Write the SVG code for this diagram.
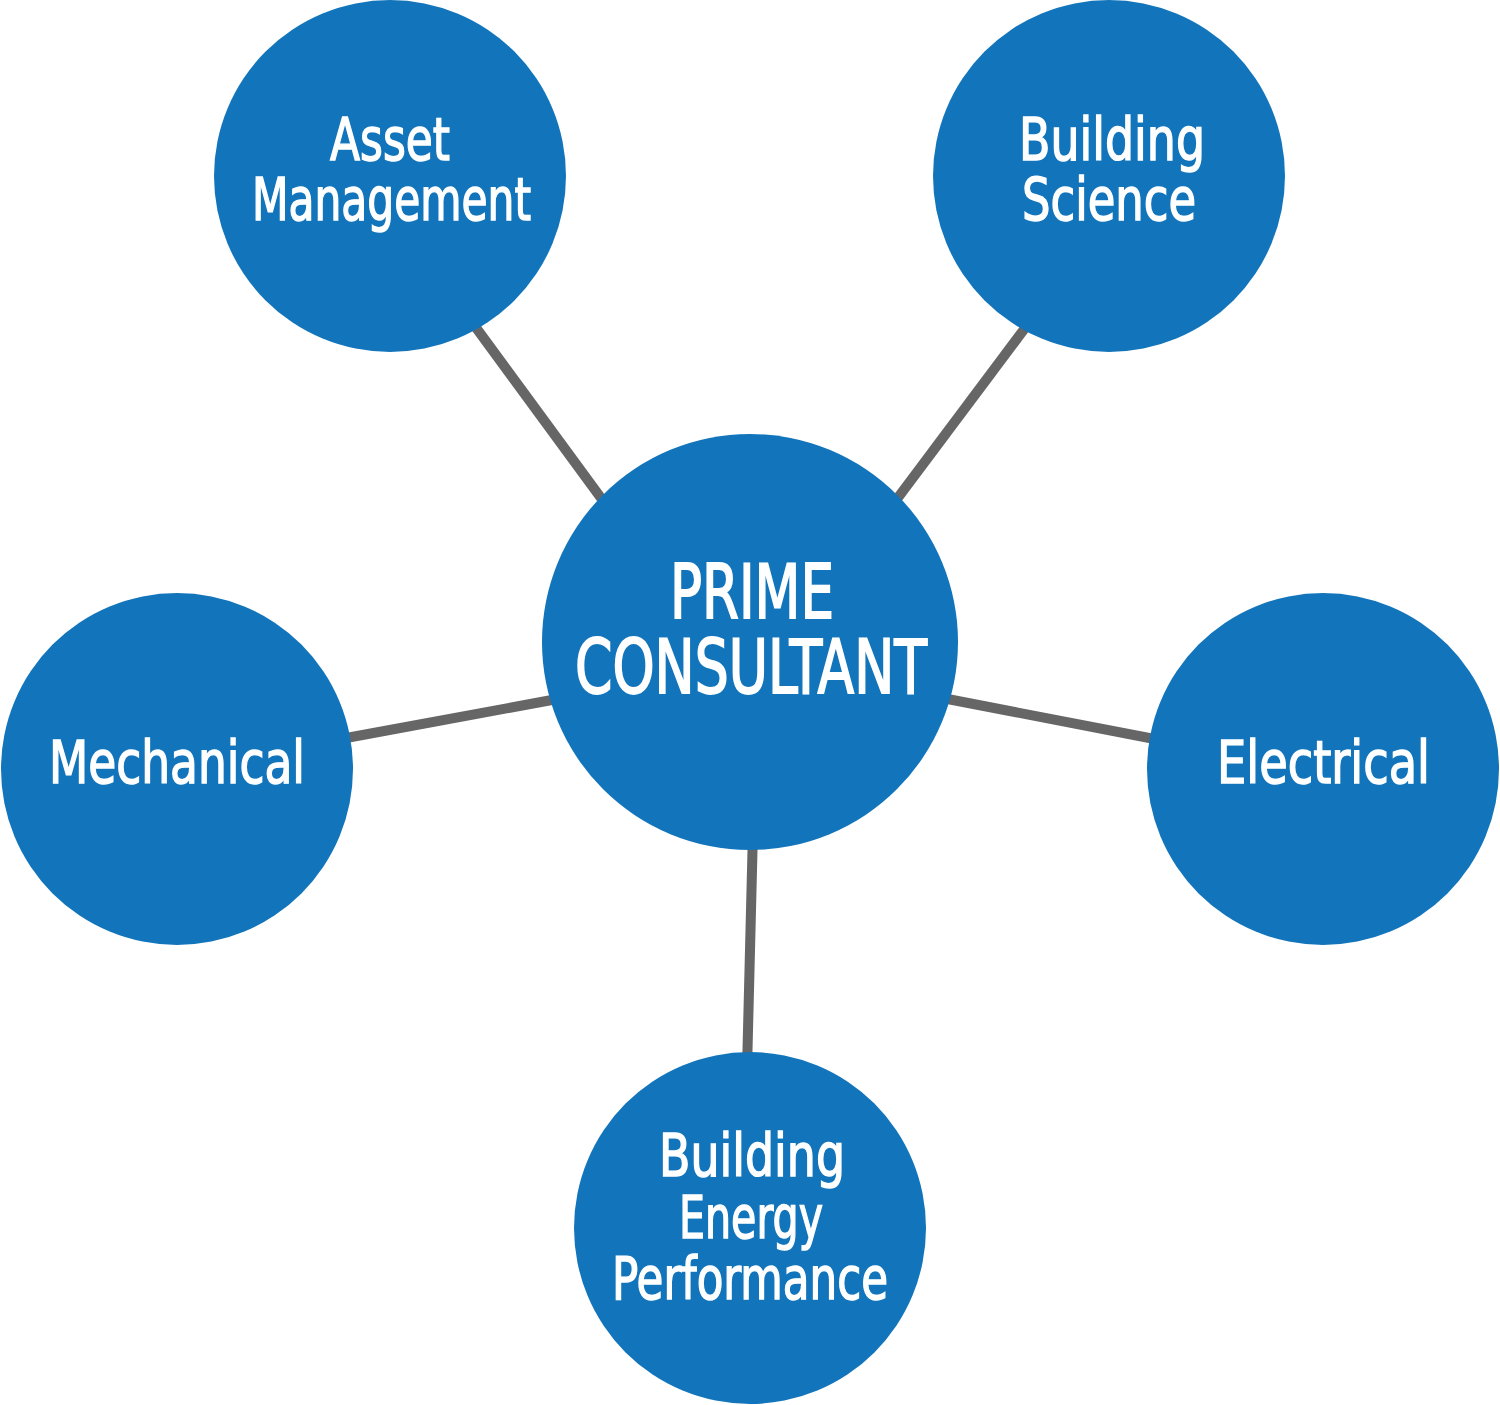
<svg xmlns="http://www.w3.org/2000/svg" width="1500" height="1405" viewBox="0 0 1500 1405">
<style>
.node{fill:#1275bb}
.conn{stroke:#666666;stroke-width:10;fill:none}
text{fill:#ffffff;stroke:#ffffff;stroke-width:1.4;font-family:"Liberation Sans Narrow","DejaVu Sans Condensed","Liberation Sans",sans-serif;font-size:59px;text-anchor:start}
.big{font-size:75px;stroke-width:1.8}
</style>
<rect width="1500" height="1405" fill="#ffffff"/>
<g id="connectors">
<line class="conn" x1="466" y1="314" x2="612" y2="513"/>
<line class="conn" x1="1034" y1="316" x2="888" y2="511"/>
<line class="conn" x1="330" y1="741" x2="568" y2="697"/>
<line class="conn" x1="932" y1="696" x2="1170" y2="742"/>
<line class="conn" x1="753" y1="830" x2="747" y2="1070"/>
</g>
<g id="node-prime">
<circle class="node" cx="750" cy="642" r="208"/>
<text class="big" x="670" y="618" textLength="164" lengthAdjust="spacingAndGlyphs">PRIME</text>
<text class="big" x="575" y="693" textLength="352" lengthAdjust="spacingAndGlyphs">CONSULTANT</text>
</g>
<g id="node-asset">
<circle class="node" cx="390" cy="176" r="176"/>
<text x="330" y="160" textLength="120" lengthAdjust="spacingAndGlyphs">Asset</text>
<text x="252" y="220" textLength="279" lengthAdjust="spacingAndGlyphs">Management</text>
</g>
<g id="node-science">
<circle class="node" cx="1109" cy="176" r="176"/>
<text x="1019" y="160" textLength="186" lengthAdjust="spacingAndGlyphs">Building</text>
<text x="1022" y="220" textLength="174" lengthAdjust="spacingAndGlyphs">Science</text>
</g>
<g id="node-mechanical">
<circle class="node" cx="177" cy="769" r="176"/>
<text x="49" y="783" textLength="256" lengthAdjust="spacingAndGlyphs">Mechanical</text>
</g>
<g id="node-electrical">
<circle class="node" cx="1323" cy="769" r="176"/>
<text x="1217" y="783" textLength="213" lengthAdjust="spacingAndGlyphs">Electrical</text>
</g>
<g id="node-energy">
<circle class="node" cx="750" cy="1228" r="176"/>
<text x="659" y="1176" textLength="186" lengthAdjust="spacingAndGlyphs">Building</text>
<text x="679" y="1238" textLength="144" lengthAdjust="spacingAndGlyphs">Energy</text>
<text x="612" y="1299" textLength="276" lengthAdjust="spacingAndGlyphs">Performance</text>
</g>
</svg>
